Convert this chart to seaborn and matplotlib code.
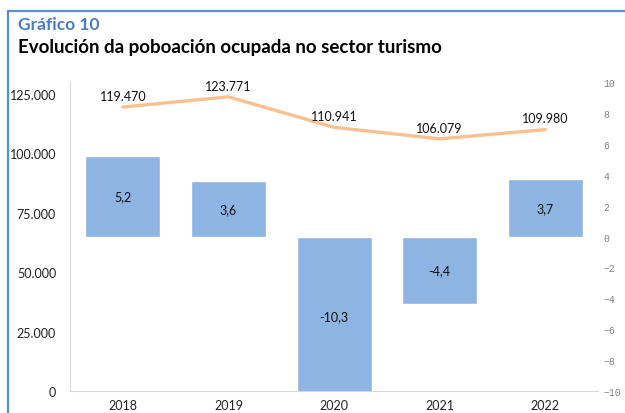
#%% bibliotecas
import pandas as pd
import seaborn as sns
import matplotlib.pyplot as plt
from matplotlib.lines import Line2D
from matplotlib.ticker import FuncFormatter

#%% datos
anos = ['2018', '2019', '2020', '2021', '2022']
ocupados = [119470, 123771, 110941, 106079, 109980]   # eixo esquerdo (liña)
variacion = [5.2, 3.6, -10.3, -4.4, 3.7]              # eixo dereito (barras, %)

df = pd.DataFrame({'ano': anos, 'ocupados': ocupados, 'variacion': variacion})

#%% figura
sns.set_style('white')
plt.rcParams['font.family'] = ['Lato', 'DejaVu Sans']

fig = plt.figure(figsize=(6.25, 4.14), dpi=100)
ax = fig.add_axes([0.112, 0.0531, 0.845, 0.7464])
ax2 = ax.twinx()

# liña de ocupados (eixo esquerdo)
sns.lineplot(data=df, x='ano', y='ocupados', ax=ax, color='#FAC090',
             linewidth=2.4, sort=False)
# barras de variación (eixo dereito)
sns.barplot(data=df, x='ano', y='variacion', ax=ax2, color='#8EB4E3',
            saturation=1, width=0.71)

ax.set_xlim(-0.5, 4.5)
ax.set_ylim(0, 130000)
ax.set_yticks(range(0, 125001, 25000))
ax.yaxis.set_major_formatter(FuncFormatter(lambda v, p: f'{int(v):,}'.replace(',', '.')))
ax2.set_ylim(-10, 10)
ax2.set_yticks(range(-10, 11, 2))

ax.set_xlabel('')
ax.set_ylabel('')
ax2.set_xlabel('')
ax2.set_ylabel('')

ax.tick_params(axis='both', length=0, labelsize=9, colors='#222222', pad=6)
ax.tick_params(axis='y', pad=10)
ax2.tick_params(axis='y', length=0, labelsize=7, colors='#808080', pad=4)
for lab in ax2.get_yticklabels():
    lab.set_family('Liberation Mono')

for a in (ax, ax2):
    for s in a.spines.values():
        s.set_visible(False)
ax.spines['left'].set_visible(True)
ax.spines['bottom'].set_visible(True)
ax.spines['left'].set_color('#D9D9D9')
ax.spines['bottom'].set_color('#D9D9D9')

# etiquetas
for i, v in enumerate(ocupados):
    ax.annotate(f'{v:,}'.replace(',', '.'), (i, v), xytext=(0, 8),
                textcoords='offset points', ha='center', va='center',
                fontsize=9, color='#111111')
for i, v in enumerate(variacion):
    ax2.text(i, v / 2, f'{v:.1f}'.replace('.', ','), ha='center', va='center',
             fontsize=9, color='#111111')

# títulos
fig.text(0.029, 0.94, 'Gráfico 10', fontsize=12.5, color='#4A7EBB',
         fontweight='bold', va='center')
fig.text(0.029, 0.886, 'Evolución da poboación ocupada no sector turismo',
         fontsize=13.5, color='black', fontweight='bold', va='center')

# marco azul
fig.add_artist(Line2D([0.013, 0.013], [0, 0.971], color='#5B8FCB', lw=1.6,
                      transform=fig.transFigure))
fig.add_artist(Line2D([0.013, 1.0], [0.971, 0.971], color='#5B8FCB', lw=1.6,
                      transform=fig.transFigure))

fig.savefig('out.png', dpi=100)
